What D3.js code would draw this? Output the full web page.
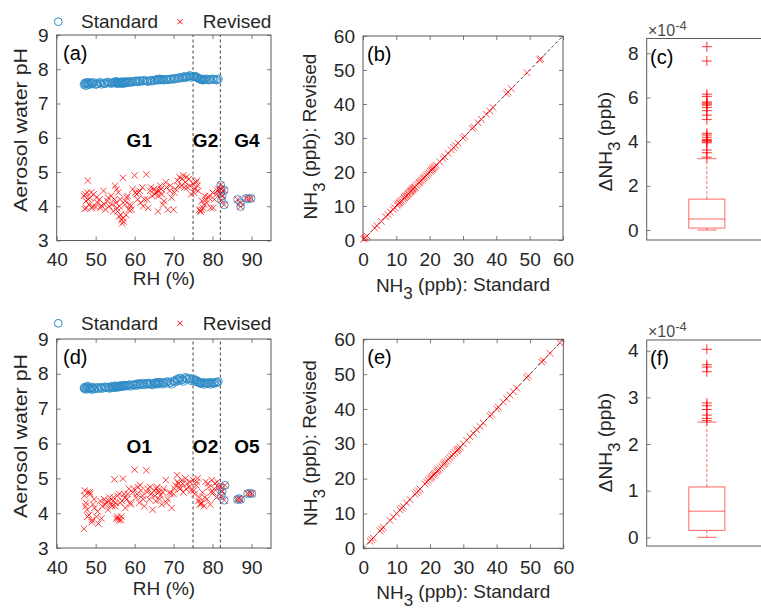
<!DOCTYPE html>
<html><head><meta charset="utf-8">
<script src="https://cdn.jsdelivr.net/npm/d3@7"></script>
<style>body{margin:0;background:#fff;} svg{display:block;font-family:"Liberation Sans",Arial,sans-serif;}</style>
</head><body><svg id="chart" width="761" height="608"></svg>
<script>
// ---------- DATA ----------
// Panel (a): RH (%), pH standard, pH revised (G1, G2, G4)
const rhA = [47.0,47.2,47.5,47.8,48.0,48.3,48.6,49.0,49.5,50.0,
 50.5,51.0,51.5,52.0,52.5,53.0,53.5,54.0,54.5,55.0,
 55.2,55.5,55.8,56.0,56.3,56.6,57.0,57.2,57.5,57.8,
 58.0,58.5,59.0,59.5,60.0,60.5,61.0,61.5,62.0,62.5,
 63.0,63.5,64.0,64.5,65.0,65.5,66.0,66.3,66.6,67.0,
 67.5,68.0,68.5,69.0,69.5,70.0,70.5,71.0,71.5,72.0,
 72.5,73.0,73.5,74.0,74.5,75.0,75.5,76.0,76.3,76.6,
 77.0,77.3,77.6,78.0,78.5,79.0,79.5,80.0,80.5,81.0,
 81.5,82.1,82.1,82.2,82.3,82.5,83.0,83.0,86.4,87.2,
 87.2,88.6,89.3,89.9,
 47.3,47.6,48.1,48.8,49.2,50.2,51.2,52.2,53.2,54.2,
 54.8,55.4,55.6,56.1,56.4,56.8,57.1,57.6,58.2,58.8,
 59.2,60.2,60.8,61.3,62.2,63.2,64.2,65.2,65.8,66.1,
 66.8,67.3,68.2,69.2,70.2,71.2,72.2,72.8,73.3,74.2,
 75.2,75.8,76.1,76.8,77.2,77.8,78.3,79.2,80.2,81.2];
const stdA = [7.55,7.60,7.52,7.58,7.62,7.55,7.60,7.57,7.60,7.55,
 7.58,7.62,7.56,7.60,7.58,7.63,7.60,7.58,7.62,7.60,
 7.65,7.58,7.62,7.60,7.63,7.60,7.62,7.58,7.64,7.60,
 7.63,7.61,7.65,7.62,7.64,7.66,7.63,7.66,7.65,7.68,
 7.66,7.64,7.67,7.65,7.68,7.70,7.68,7.72,7.69,7.70,
 7.68,7.71,7.69,7.70,7.72,7.70,7.74,7.72,7.76,7.74,
 7.78,7.75,7.78,7.80,7.76,7.78,7.80,7.76,7.74,7.72,
 7.70,7.72,7.68,7.70,7.72,7.68,7.70,7.72,7.70,7.68,
 7.72,4.62,4.38,4.50,4.18,4.30,4.04,4.47,4.20,3.99,
 4.10,4.23,4.22,4.23,
 7.57,7.61,7.56,7.59,7.62,7.57,7.60,7.58,7.61,7.60,
 7.62,7.59,7.63,7.61,7.58,7.64,7.60,7.62,7.64,7.62,
 7.63,7.66,7.64,7.67,7.66,7.65,7.68,7.67,7.70,7.69,
 7.71,7.70,7.70,7.72,7.73,7.75,7.76,7.79,7.77,7.82,
 7.79,7.78,7.75,7.71,7.69,7.71,7.70,7.70,7.71,7.70];
const revA = [4.30,3.92,4.15,4.40,4.75,4.05,4.25,3.95,4.35,3.98,
 4.10,4.20,4.02,4.45,3.90,4.15,4.00,4.30,3.85,4.60,
 4.10,3.95,4.40,3.70,4.20,3.60,4.83,3.55,4.05,3.75,
 4.25,3.90,4.00,4.50,4.90,4.35,4.40,4.10,4.55,4.20,
 4.93,3.95,4.45,4.30,4.50,4.40,3.85,4.45,4.60,4.35,
 4.15,4.70,3.90,4.45,4.25,3.90,4.50,4.75,4.85,4.60,
 4.90,4.70,4.55,4.80,4.35,4.65,4.50,4.75,4.45,3.90,
 3.85,4.15,3.95,4.30,4.10,4.25,3.95,4.40,4.20,4.35,
 4.50,4.62,4.38,4.50,4.18,4.30,4.04,4.47,4.20,3.99,
 4.10,4.23,4.22,4.23,
 4.35,3.95,4.20,4.40,4.00,4.25,3.95,4.05,4.25,4.05,
 4.20,4.50,3.85,4.00,3.75,3.50,3.65,4.15,4.30,4.05,
 3.90,4.40,4.20,4.45,4.00,4.20,4.55,4.35,4.45,4.30,
 4.50,4.05,4.55,4.60,4.40,4.60,4.80,4.55,4.85,4.60,
 4.40,4.70,4.60,3.85,3.90,4.05,4.20,4.30,3.95,4.45];

// Panel (d): RH (%), pH standard, pH revised (O1, O2, O5)
const rhD = [47.0,47.2,47.5,47.8,48.0,48.3,48.6,49.0,49.3,49.7,
 50.2,50.7,51.2,51.7,52.2,52.7,53.2,53.6,54.0,54.4,
 54.8,55.0,55.3,55.6,56.0,56.3,56.6,57.0,57.3,57.6,
 58.0,58.5,59.0,59.5,60.0,60.4,60.8,61.2,61.6,62.0,
 62.5,63.0,63.4,63.8,64.2,64.6,65.0,65.4,65.8,66.2,
 66.6,67.0,67.5,68.0,68.5,69.0,69.5,70.0,70.5,70.9,
 71.3,71.7,72.1,72.5,73.0,73.5,74.0,74.5,75.0,75.4,
 75.8,76.2,76.6,77.0,77.4,77.8,78.2,78.6,79.0,79.4,
 79.8,80.2,80.6,81.0,81.5,82.0,82.2,82.5,83.0,83.2,
 86.4,86.8,87.2,89.0,89.6,90.1,
 47.1,47.4,47.9,48.5,49.1,49.6,50.5,51.5,52.5,53.4,
 54.2,54.6,55.2,55.5,55.8,56.1,56.5,56.8,57.5,58.2,
 58.8,59.8,60.6,61.4,62.2,63.2,64.0,65.2,65.6,66.0,
 66.4,67.2,68.2,69.2,70.2,71.0,71.5,72.3,73.2,74.2,
 75.2,76.0,76.4,76.8,77.2,78.0,78.8,79.6,80.4,81.2];
const stdD = [7.58,7.62,7.55,7.60,7.65,7.57,7.60,7.55,7.62,7.58,
 7.60,7.57,7.62,7.58,7.63,7.60,7.62,7.58,7.64,7.60,
 7.62,7.66,7.60,7.64,7.62,7.66,7.63,7.65,7.68,7.64,
 7.66,7.68,7.64,7.67,7.70,7.66,7.72,7.68,7.70,7.74,
 7.68,7.72,7.70,7.74,7.70,7.68,7.72,7.75,7.70,7.72,
 7.76,7.70,7.74,7.72,7.78,7.74,7.70,7.80,7.76,7.85,
 7.80,7.88,7.82,7.78,7.90,7.84,7.88,7.80,7.86,7.78,
 7.82,7.76,7.74,7.72,7.76,7.70,7.74,7.72,7.76,7.70,
 7.74,7.72,7.76,7.74,7.78,4.75,4.50,4.62,4.37,4.80,
 4.39,4.42,4.39,4.56,4.57,4.56,
 7.60,7.57,7.62,7.58,7.60,7.56,7.61,7.59,7.62,7.60,
 7.63,7.61,7.64,7.62,7.65,7.63,7.66,7.64,7.67,7.66,
 7.69,7.68,7.70,7.72,7.70,7.73,7.71,7.74,7.72,7.76,
 7.73,7.75,7.77,7.75,7.79,7.83,7.86,7.84,7.87,7.85,
 7.82,7.80,7.76,7.74,7.73,7.74,7.72,7.75,7.73,7.76];
const revD = [3.55,4.65,4.30,4.10,4.60,3.95,4.55,3.74,4.25,4.15,
 3.90,3.70,4.35,4.20,4.40,4.30,4.10,4.45,4.25,4.35,
 4.97,4.20,3.84,4.50,3.79,4.30,3.90,4.99,4.55,4.15,
 4.40,4.70,4.25,4.60,5.25,4.45,4.75,4.30,4.65,4.50,
 4.20,5.23,4.70,4.40,4.55,4.10,4.65,4.35,4.75,4.60,
 4.50,4.25,4.70,4.95,4.40,4.60,4.15,4.55,4.80,5.09,
 4.85,4.70,4.95,4.60,5.00,4.85,4.75,4.65,4.95,4.55,
 4.80,5.00,4.45,4.27,4.60,4.20,4.90,4.40,4.75,4.25,
 4.95,4.60,4.85,4.45,4.75,4.75,4.50,4.62,4.37,4.80,
 4.39,4.42,4.39,4.56,4.57,4.56,
 4.50,4.20,3.90,4.60,3.80,4.40,4.05,3.85,4.25,4.35,
 4.20,4.45,4.30,3.90,3.85,4.55,3.80,4.35,4.45,4.55,
 4.30,4.70,4.55,4.80,4.40,4.60,4.75,4.50,4.70,4.65,
 4.40,4.60,4.30,4.55,4.70,4.90,4.75,4.85,4.70,4.90,
 4.65,4.90,4.35,4.25,4.30,4.45,4.85,4.60,4.70,4.90];

// Panel (b) / (e): NH3 (ppb), standard vs revised (differences ~1e-4 ppb, invisible at this scale)
const nh3StdB = [0.2,0.5,0.8,1.2,3.5,4.2,5.5,6.8,7.5,8.2,9.0,9.5,10.2,10.5,10.8,11.0,11.3,11.6,12.0,12.3,
 12.5,12.8,13.0,13.2,13.5,13.7,14.0,14.2,14.4,14.6,14.8,15.0,15.2,15.4,15.6,16.0,16.4,16.8,17.0,17.3,
 17.6,18.0,18.3,18.6,19.0,19.4,19.8,20.2,20.5,20.8,21.0,21.3,21.6,22.0,23.0,24.0,24.5,25.5,26.5,27.2,
 27.8,28.5,30.0,30.5,32.8,33.2,34.5,35.5,37.0,38.0,39.0,43.0,43.5,44.5,49.2,53.0,53.3];
const nh3RevB = nh3StdB.slice();
const nh3StdE = [2.0,2.5,3.0,5.0,5.5,6.0,8.0,9.0,10.0,11.0,11.5,12.0,13.0,14.0,15.5,16.0,16.5,17.0,18.5,19.0,
 19.5,20.0,20.3,20.6,21.0,21.3,21.6,22.0,22.3,22.6,23.0,23.5,24.0,24.3,24.6,25.0,25.5,26.0,26.5,27.0,
 27.5,28.0,28.3,28.6,29.0,30.0,31.0,32.0,33.0,34.0,35.0,36.0,38.0,38.5,40.0,40.5,42.0,43.0,44.0,45.0,
 46.0,49.0,49.5,53.5,54.0,56.0,59.0];
const nh3RevE = nh3StdE.slice();

// Panel (c) / (f): box plot statistics of ΔNH3 (×1e-4 ppb)
const boxStatsC = [0.0, 0.09, 0.50, 1.40, 3.23];   // lower whisker, q1, median, q3, upper whisker
const outliersC = [8.30,7.65,6.15,6.05,5.80,5.75,5.70,5.65,5.55,5.40,5.20,5.00,4.38,4.30,4.20,4.10,4.05,4.00,3.95,3.62,3.50,3.30];
const boxStatsF = [0.0, 0.15, 0.56, 1.08, 2.47];
const outliersF = [4.03,3.70,3.65,3.55,2.88,2.82,2.74,2.62,2.55,2.50];

const ticksRH = [40,50,60,70,80,90];
const ticksPH = [3,4,5,6,7,8,9];
const ticksNH3 = [0,10,20,30,40,50,60];
const ticksC = [0,2,4,6,8];
const ticksF = [0,1,2,3,4];
const groupsA = [["G1",61.2],["G2",78.2],["G4",88.8]];
const groupsD = [["O1",61.2],["O2",78.2],["O5",88.8]];
const dividersRH = [75,82];

// ---------- DRAWING ----------
const svg = d3.select("#chart");
const TXT = "#262626", AX = "#5a5a5a", FS = 19;
const BLUE = "#2e8bc6", RED = "#ff0000";
const fmt = d3.format("d");

function frame(x, y, opts) {
  const g = svg.append("g");
  const [x0, x1] = x.range(), [y0, y1] = y.range();
  const tl = 4;
  if (opts.xticks) {
    const ab = d3.axisBottom(x).tickValues(opts.xticks).tickFormat(fmt).tickSize(-tl).tickPadding(opts.xpad);
    g.append("g").attr("transform", `translate(0,${y0})`).call(ab);
    const at = d3.axisTop(x).tickValues(opts.xticks).tickSize(-tl).tickFormat("");
    g.append("g").attr("transform", `translate(0,${y1})`).call(at);
  }
  const al = d3.axisLeft(y).tickValues(opts.yticks).tickFormat(fmt).tickSize(-tl).tickPadding(opts.ypad);
  g.append("g").attr("transform", `translate(${x0},0)`).call(al);
  const ar = d3.axisRight(y).tickValues(opts.yticks).tickSize(-tl).tickFormat("");
  g.append("g").attr("transform", `translate(${x1},0)`).call(ar);
  g.selectAll(".domain").remove();
  g.selectAll(".tick line").attr("stroke", AX).attr("stroke-width", 0.8);
  g.selectAll(".tick text").attr("fill", TXT).attr("font-size", FS).attr("font-family", "Liberation Sans, Arial, sans-serif");
  g.append("rect").attr("x", x0).attr("y", y1).attr("width", x1 - x0).attr("height", y0 - y1)
    .attr("fill", "none").attr("stroke", AX).attr("stroke-width", 1);
  return g;
}

const crossPath = s => `M${-s},${-s}L${s},${s}M${-s},${s}L${s},${-s}`;
const plusPath = s => `M${-s},0L${s},0M0,${-s}L0,${s}`;

function phPanel(top, bottom, rh, std, rev, groups, tag, legendY, xlabBase, ylabCenter) {
  const x = d3.scaleLinear([40, 95], [56.7, 271]);
  const y = d3.scaleLinear([3, 9], [bottom, top]);
  frame(x, y, {xticks: ticksRH, yticks: ticksPH, xpad: 12.5, ypad: 8});
  const g = svg.append("g");
  dividersRH.forEach(v => g.append("line").attr("x1", x(v)).attr("x2", x(v)).attr("y1", y(3)).attr("y2", y(9))
    .attr("stroke", "#444").attr("stroke-width", 1).attr("stroke-dasharray", "3,2.5"));
  g.selectAll("circle.s").data(rh.map((r, i) => [r, std[i]])).join("circle").attr("class", "s")
    .attr("cx", d => x(d[0])).attr("cy", d => y(d[1])).attr("r", 3.9)
    .attr("fill", "none").attr("stroke", BLUE).attr("stroke-width", 1).attr("stroke-opacity", 0.85);
  g.selectAll("path.r").data(rh.map((r, i) => [r, rev[i]])).join("path").attr("class", "r")
    .attr("transform", d => `translate(${x(d[0])},${y(d[1])})`).attr("d", crossPath(3.2))
    .attr("stroke", RED).attr("stroke-width", 1).attr("stroke-opacity", 0.75).attr("fill", "none");
  groups.forEach(([t, v]) => g.append("text").attr("x", x(v)).attr("y", y(5.73))
    .attr("text-anchor", "middle").attr("font-weight", "bold").attr("font-size", 19).attr("fill", "#000").text(t));
  g.append("text").attr("x", 63).attr("y", top + 25).attr("font-size", 20).attr("fill", "#000").text(tag);
  // legend
  g.append("circle").attr("cx", 58.3).attr("cy", legendY).attr("r", 3.9).attr("fill", "none").attr("stroke", BLUE);
  g.append("text").attr("x", 81).attr("y", legendY + 6.5).attr("font-size", FS).attr("fill", TXT).text("Standard");
  g.append("path").attr("transform", `translate(180,${legendY})`).attr("d", crossPath(2.5)).attr("stroke", RED).attr("stroke-width", 1);
  g.append("text").attr("x", 202.7).attr("y", legendY + 6.5).attr("font-size", FS).attr("fill", TXT).text("Revised");
  g.append("text").attr("x", 164).attr("y", xlabBase).attr("text-anchor", "middle").attr("font-size", FS).attr("fill", TXT).text("RH (%)");
  g.append("text").attr("transform", `translate(27,${ylabCenter}) rotate(-90)`).attr("text-anchor", "middle")
    .attr("font-size", FS).attr("fill", TXT).attr("textLength", 164).attr("lengthAdjust", "spacingAndGlyphs").text("Aerosol water pH");
}

function nh3Text(sel, tail) {
  sel.append("tspan").text("NH");
  sel.append("tspan").attr("dy", "0.45em").attr("font-size", 17).text("3");
  sel.append("tspan").attr("dy", "-0.45em").text(tail);
}

function nh3Panel(top, bottom, left, stdv, revv, tag, xlabBase, ylabCenter) {
  const x = d3.scaleLinear([0, 60], [left, left + 200]);
  const y = d3.scaleLinear([0, 60], [bottom, top]);
  frame(x, y, {xticks: ticksNH3, yticks: ticksNH3, xpad: 12.5, ypad: 8});
  const g = svg.append("g");
  g.append("line").attr("x1", x(0)).attr("y1", y(0)).attr("x2", x(60)).attr("y2", y(60))
    .attr("stroke", "#444").attr("stroke-width", 1).attr("stroke-dasharray", "3,2.5");
  g.selectAll("path.r").data(stdv.map((s, i) => [s, revv[i]])).join("path").attr("class", "r")
    .attr("transform", d => `translate(${x(d[0])},${y(d[1])})`).attr("d", crossPath(3.3))
    .attr("stroke", RED).attr("stroke-width", 1).attr("stroke-opacity", 0.7).attr("fill", "none");
  g.append("text").attr("x", left + 4).attr("y", top + 25).attr("font-size", 20).attr("fill", "#000").text(tag);
  nh3Text(g.append("text").attr("x", left + 100).attr("y", xlabBase).attr("text-anchor", "middle").attr("font-size", FS).attr("fill", TXT), " (ppb): Standard");
  nh3Text(g.append("text").attr("transform", `translate(317,${ylabCenter}) rotate(-90)`).attr("text-anchor", "middle").attr("font-size", FS).attr("fill", TXT), " (ppb): Revised");
}

function boxPanel(top, bottom, dom, stats, outl, ticks, tag, ylabCenter) {
  const x = d3.scaleLinear([0.5, 1.5], [646.7, 767]);
  const y = d3.scaleLinear(dom, [bottom, top]);
  frame(x, y, {yticks: ticks, ypad: 8});
  const g = svg.append("g").attr("stroke", RED).attr("stroke-opacity", 0.6).attr("fill", "none").attr("stroke-width", 1);
  const [wlo, q1, med, q3, whi] = stats;
  const bw = 0.15, cw = 0.08;
  g.append("line").attr("x1", x(1)).attr("x2", x(1)).attr("y1", y(q3)).attr("y2", y(whi)).attr("stroke-dasharray", "3,2");
  g.append("line").attr("x1", x(1)).attr("x2", x(1)).attr("y1", y(q1)).attr("y2", y(wlo)).attr("stroke-dasharray", "3,2");
  g.append("line").attr("x1", x(1 - cw)).attr("x2", x(1 + cw)).attr("y1", y(whi)).attr("y2", y(whi));
  g.append("line").attr("x1", x(1 - cw)).attr("x2", x(1 + cw)).attr("y1", y(wlo)).attr("y2", y(wlo));
  g.append("rect").attr("x", x(1 - bw)).attr("width", x(1 + bw) - x(1 - bw)).attr("y", y(q3)).attr("height", y(q1) - y(q3));
  g.append("line").attr("x1", x(1 - bw)).attr("x2", x(1 + bw)).attr("y1", y(med)).attr("y2", y(med));
  g.selectAll("path.o").data(outl).join("path").attr("class", "o")
    .attr("transform", d => `translate(${x(1)},${y(d)})`).attr("d", plusPath(5)).attr("stroke-opacity", 0.8);
  svg.append("text").attr("x", 650).attr("y", top + 25).attr("font-size", 20).attr("fill", "#000").text(tag);
  const e = svg.append("text").attr("x", 648).attr("y", top - 3).attr("font-size", 16).attr("fill", "#4a4a4a");
  e.append("tspan").text("×10");
  e.append("tspan").attr("dy", "-0.45em").attr("font-size", 13).text("-4");
  const yl = svg.append("text").attr("transform", `translate(612,${ylabCenter}) rotate(-90)`).attr("text-anchor", "middle")
    .attr("font-size", FS).attr("fill", TXT);
  yl.append("tspan").text("ΔNH");
  yl.append("tspan").attr("dy", "0.45em").attr("font-size", 17).text("3");
  yl.append("tspan").attr("dy", "-0.45em").text(" (ppb)");
}

phPanel(35, 240.5, rhA, stdA, revA, groupsA, "(a)", 21.7, 284.5, 130);
phPanel(339, 548, rhD, stdD, revD, groupsD, "(d)", 323.3, 594.5, 436);
nh3Panel(36, 240, 363, nh3StdB, nh3RevB, "(b)", 291.7, 136.5);
nh3Panel(339.3, 548.3, 363.3, nh3StdE, nh3RevE, "(e)", 598.5, 443);
boxPanel(38.5, 240, [-0.45, 8.67], boxStatsC, outliersC, ticksC, "(c)", 141.5);
boxPanel(340, 546, [-0.186, 4.23], boxStatsF, outliersF, ticksF, "(f)", 442.5);
</script></body></html>
